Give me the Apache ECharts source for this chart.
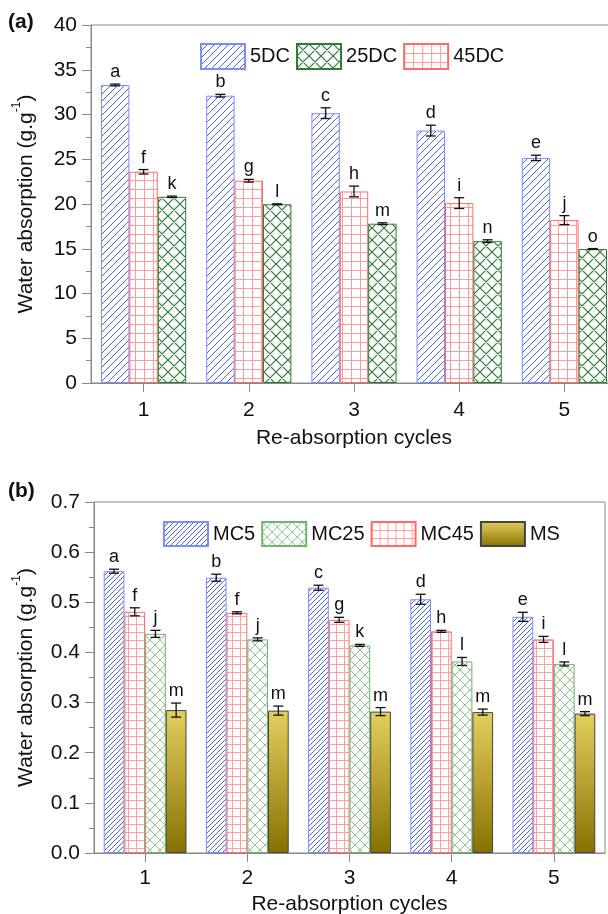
<!DOCTYPE html>
<html>
<head>
<meta charset="utf-8">
<script src="https://cdn.jsdelivr.net/npm/echarts@6/dist/echarts.min.js"></script>
<style>
  html, body { margin: 0; padding: 0; background: #fff; }
  #chart { width: 608px; height: 914px; }
</style>
</head>
<body>
<div id="chart"></div>
<script>
var FONT = 'Liberation Sans, Arial, sans-serif';
var GAP = 0.19;

var cycles = ['1', '2', '3', '4', '5'];

// panel (a)
var dc5 = [33.3, 32.1, 30.15, 28.2, 25.15];
var dc45 = [23.6, 22.6, 21.4, 20.1, 18.2];
var dc25 = [20.8, 19.97, 17.8, 15.85, 14.97];
var dc5Err = [0.1, 0.15, 0.6, 0.6, 0.3];
var dc45Err = [0.25, 0.15, 0.6, 0.6, 0.5];
var dc25Err = [0.08, 0.05, 0.1, 0.15, 0.05];
var dc5Let = ['a', 'b', 'c', 'd', 'e'];
var dc45Let = ['f', 'g', 'h', 'i', 'j'];
var dc25Let = ['k', 'l', 'm', 'n', 'o'];

// panel (b)
var mc5 = [0.562, 0.549, 0.529, 0.506, 0.471];
var mc45 = [0.481, 0.479, 0.465, 0.442, 0.426];
var mc25 = [0.437, 0.426, 0.414, 0.382, 0.377];
var ms = [0.285, 0.284, 0.282, 0.281, 0.278];
var mc5Err = [0.004, 0.007, 0.005, 0.01, 0.009];
var mc45Err = [0.008, 0.002, 0.005, 0.002, 0.006];
var mc25Err = [0.007, 0.003, 0.002, 0.008, 0.004];
var msErr = [0.014, 0.009, 0.008, 0.006, 0.004];
var mc5Let = ['a', 'b', 'c', 'd', 'e'];
var mc45Let = ['f', 'f', 'g', 'h', 'i'];
var mc25Let = ['j', 'j', 'k', 'l', 'l'];
var msLet = ['m', 'm', 'm', 'm', 'm'];

function hatch(size, color, width, kind) {
	var c = document.createElement('canvas');
	c.width = size;
	c.height = size;
	var ctx = c.getContext('2d');
	ctx.fillStyle = '#fff';
	ctx.fillRect(0, 0, size, size);
	ctx.strokeStyle = color;
	ctx.lineWidth = width;
	ctx.beginPath();
	if (kind == 'diag' || kind == 'cross') {
		for (var k = -1; k <= 1; k++) {
			ctx.moveTo(k * size, size);
			ctx.lineTo(k * size + size, 0);
		}
	}
	if (kind == 'cross') {
		for (var k = -1; k <= 1; k++) {
			ctx.moveTo(k * size, 0);
			ctx.lineTo(k * size + size, size);
		}
	}
	if (kind == 'grid') {
		ctx.moveTo(0, 0.5);
		ctx.lineTo(size, 0.5);
		ctx.moveTo(0.5, 0);
		ctx.lineTo(0.5, size);
	}
	ctx.stroke();
	return { image: c, repeat: 'repeat' };
}

function bar(name, axis, data, fill, border) {
	return {
		name: name,
		type: 'bar',
		xAxisIndex: axis,
		yAxisIndex: axis,
		data: data,
		barGap: '0%',
		barCategoryGap: (GAP * 100) + '%',
		itemStyle: { color: fill, borderColor: border, borderWidth: 1 },
		emphasis: { disabled: true }
	};
}

// error bars + significance letters drawn next to each bar slot
function errBars(axis, vals, errs, letters, slot, nBars) {
	return {
		type: 'custom',
		xAxisIndex: axis,
		yAxisIndex: axis,
		z: 10,
		silent: true,
		clip: false,
		data: vals.map(function (v, i) { return [i, v, errs[i]]; }),
		renderItem: function (params, api) {
			var i = api.value(0), v = api.value(1), e = api.value(2);
			var band = api.size([1, 0])[0];
			var bw = band * (1 - GAP) / nBars;
			var cx = api.coord([i, v])[0] + (slot - (nBars - 1) / 2) * bw;
			var yt = api.coord([i, v + e])[1];
			var yb = api.coord([i, v - e])[1];
			var cap = 5;
			var ls = { stroke: '#111', lineWidth: 1.3 };
			return {
				type: 'group',
				children: [
					{ type: 'line', shape: { x1: cx, y1: yt, x2: cx, y2: yb }, style: ls },
					{ type: 'line', shape: { x1: cx - cap, y1: yt, x2: cx + cap, y2: yt }, style: ls },
					{ type: 'line', shape: { x1: cx - cap, y1: yb, x2: cx + cap, y2: yb }, style: ls },
					{
						type: 'text', x: cx, y: yt - 3,
						style: {
							text: letters[params.dataIndex], align: 'center', verticalAlign: 'bottom',
							fontSize: 18, fontFamily: FONT, fill: '#111'
						}
					}
				]
			};
		}
	};
}

function yName() {
	return '{t|Water absorption (g.g}{s|-1}{t|)}';
}

function yAxis(grid, max, interval, fmt, gap) {
	return {
		gridIndex: grid,
		type: 'value',
		min: 0,
		max: max,
		interval: interval,
		axisLine: { show: true, lineStyle: { color: '#888' } },
		axisTick: { show: true, length: 9, lineStyle: { color: '#888' } },
		minorTick: { show: true, splitNumber: 2, length: 5, lineStyle: { color: '#888' } },
		splitLine: { show: false },
		axisLabel: { fontSize: 21, color: '#111', fontFamily: FONT, margin: 14, formatter: fmt },
		name: yName(),
		nameLocation: 'middle',
		nameRotate: 90,
		nameGap: gap,
		nameTextStyle: {
			rich: {
				t: { fontSize: 21, color: '#111', fontFamily: FONT, lineHeight: 26, verticalAlign: 'bottom' },
				s: { fontSize: 12, color: '#111', fontFamily: FONT, verticalAlign: 'top' }
			}
		}
	};
}

function xAxis(grid, margin, gap) {
	return {
		gridIndex: grid,
		type: 'category',
		data: cycles,
		axisLine: { show: true, lineStyle: { color: '#888' } },
		axisTick: { show: true, alignWithLabel: true, length: 9, lineStyle: { color: '#888' } },
		axisLabel: { fontSize: 21, color: '#111', fontFamily: FONT, margin: margin },
		name: 'Re-absorption cycles',
		nameLocation: 'middle',
		nameGap: gap,
		nameTextStyle: { fontSize: 21, color: '#111', fontFamily: FONT }
	};
}

var blueA = hatch(7, '#4a63e8', 1, 'diag');
var redA = hatch(9, '#ff9a9a', 1, 'grid');
var greenA = hatch(12, '#2f7a3a', 1.2, 'cross');
var blueB = hatch(5, '#4a63e8', 1, 'diag');
var redB = hatch(8, '#ffa0a0', 1, 'grid');
var greenB = hatch(10, '#8cc48c', 1, 'cross');
var gold = {
	type: 'linear', x: 0, y: 0, x2: 0, y2: 1,
	colorStops: [
		{ offset: 0, color: '#e2cf5e' },
		{ offset: 0.5, color: '#b9a030' },
		{ offset: 1, color: '#857100' }
	]
};

var chart = echarts.init(document.getElementById('chart'));
var option = {
	animation: false,
	backgroundColor: '#fff',
	grid: [
		{ left: 91, top: 25, width: 526, height: 358, show: true, borderColor: '#888', borderWidth: 1, outerBoundsMode: 'none' },
		{ left: 94, top: 502, width: 511, height: 351, show: true, borderColor: '#888', borderWidth: 1, outerBoundsMode: 'none' }
	],
	legend: [
		{
			data: ['5DC', '25DC', '45DC'], left: 195, top: 38, icon: 'rect',
			itemWidth: 44, itemHeight: 25, itemGap: 6,
			textStyle: { fontSize: 20, color: '#111', fontFamily: FONT }
		},
		{
			data: ['MC5', 'MC25', 'MC45', 'MS'], left: 158, top: 516, icon: 'rect',
			itemWidth: 44, itemHeight: 24, itemGap: 6,
			textStyle: { fontSize: 20, color: '#111', fontFamily: FONT }
		}
	],
	graphic: [
		{ type: 'text', left: 8, top: 12, style: { text: '(a)', fontSize: 21, fontWeight: 'bold', fontFamily: FONT, fill: '#111' } },
		{ type: 'text', left: 8, top: 481, style: { text: '(b)', fontSize: 21, fontWeight: 'bold', fontFamily: FONT, fill: '#111' } }
	],
	xAxis: [xAxis(0, 17, 45), xAxis(1, 15, 41)],
	yAxis: [
		yAxis(0, 40, 5, null, 54),
		yAxis(1, 0.7, 0.1, function (v) { return v.toFixed(1); }, 57)
	],
	series: [
		bar('5DC', 0, dc5, blueA, '#7b8cff'),
		bar('45DC', 0, dc45, redA, '#ff6a6a'),
		bar('25DC', 0, dc25, greenA, '#2e7d32'),
		errBars(0, dc5, dc5Err, dc5Let, 0, 3),
		errBars(0, dc45, dc45Err, dc45Let, 1, 3),
		errBars(0, dc25, dc25Err, dc25Let, 2, 3),

		bar('MC5', 1, mc5, blueB, '#7b8cff'),
		bar('MC45', 1, mc45, redB, '#ff6a6a'),
		bar('MC25', 1, mc25, greenB, '#6fb46f'),
		bar('MS', 1, ms, gold, '#444'),
		errBars(1, mc5, mc5Err, mc5Let, 0, 4),
		errBars(1, mc45, mc45Err, mc45Let, 1, 4),
		errBars(1, mc25, mc25Err, mc25Let, 2, 4),
		errBars(1, ms, msErr, msLet, 3, 4)
	]
};
chart.setOption(option);
</script>
</body>
</html>
